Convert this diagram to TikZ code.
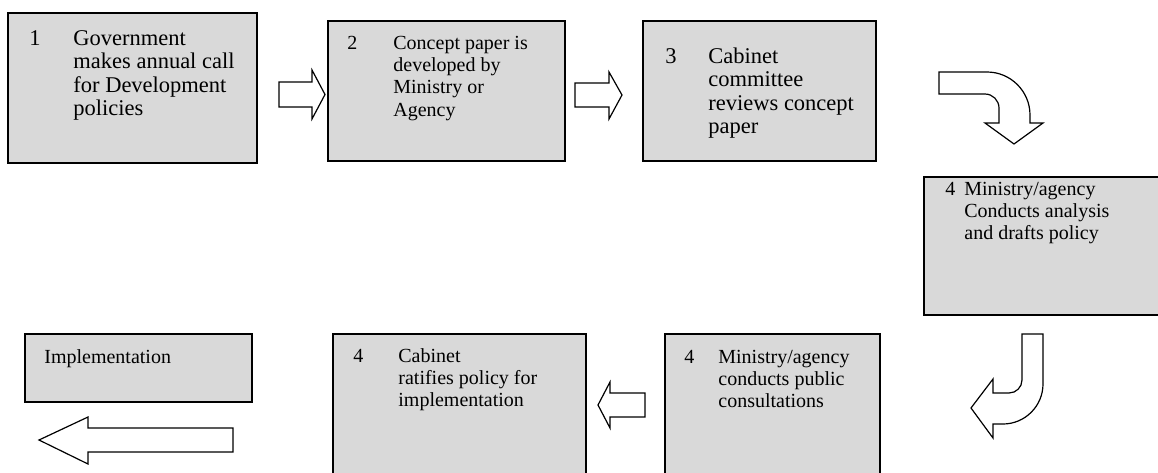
\documentclass[tikz,border=0pt]{standalone}
\usepackage{fontspec}
\setmainfont{Liberation Serif}
\usepackage{tikz}
\definecolor{boxgrey}{HTML}{D9D9D9}
\tikzset{
	box/.style={draw=black, fill=boxgrey, line width=0.8pt, inner sep=0pt, outer sep=0pt, anchor=north west},
	bigtxt/.style={font=\fontsize{11.25}{11.8}\selectfont, align=left, anchor=base west, inner sep=0pt},
	smalltxt/.style={font=\fontsize{10}{11.2}\selectfont, align=left, anchor=base west, inner sep=0pt},
	blockarrow/.style={draw=black, fill=white, line width=0.6pt, line join=miter}
}
\begin{document}
\begin{tikzpicture}[x=0.5pt,y=-0.5pt]
		\useasboundingbox (0,0) rectangle (1158,472);
		\clip (0,0) rectangle (1158,472);
		% Top row
		\node [box, minimum width=124.5pt, minimum height=75pt] (gov) at (8,13) {};
		\node [box, minimum width=118.5pt, minimum height=70pt] (concept) at (328,21) {};
		\node [box, minimum width=116.5pt, minimum height=70pt] (review) at (643,21) {};
		% Right
		\node [box, minimum width=125pt, minimum height=69pt] (draft) at (924,177) {};
		% Bottom row
		\node [box, minimum width=113.5pt, minimum height=34pt] (impl) at (25,334) {};
		\node [box, minimum width=126.5pt, minimum height=80pt] (ratify) at (333,334) {};
		\node [box, minimum width=107.5pt, minimum height=80pt] (consult) at (665,334) {};
		% NUMBERS AND TEXT (multi-line texts sit on their last baseline)
		\node [bigtxt] (gov-n) at (29,45) {1};
		\node [bigtxt] (gov-t) at (73,115.8) {Government\\makes annual call\\for Development\\policies};
		\node [smalltxt] (concept-n) at (347,49) {2};
		\node [smalltxt] (concept-t) at (393,116.2) {Concept paper is\\developed by\\Ministry or\\Agency};
		\node [bigtxt] (review-n) at (665,63) {3};
		\node [bigtxt] (review-t) at (708,133.8) {Cabinet\\committee\\reviews concept\\paper};
		\node [smalltxt] (draft-n) at (945,195) {4};
		\node [smalltxt] (draft-t) at (964,239.8) {Ministry/agency\\Conducts analysis\\and drafts policy};
		\node [smalltxt] (consult-n) at (684,363) {4};
		\node [smalltxt] (consult-t) at (718,407.8) {Ministry/agency\\conducts public\\consultations};
		\node [smalltxt] (ratify-n) at (353,362) {4};
		\node [smalltxt] (ratify-t) at (398,406.8) {Cabinet\\ratifies policy for\\implementation};
		\node [smalltxt] (impl-t) at (44,363) {Implementation};
		% Block arrows
		\draw [blockarrow] (279,82) -- (312,82) -- (312,70) -- (325,94.5) -- (312,119) -- (312,107) -- (279,107) -- cycle;
		\draw [blockarrow] (575,83) -- (609,83) -- (609,72) -- (622,95) -- (609,119) -- (609,107) -- (575,107) -- cycle;
		\draw [blockarrow] (939,72) -- (987,72) .. controls (1010.7,72) and (1030,91.3) .. (1030,115) -- (1030,123) -- (1043,123) -- (1014,144) -- (985,123) -- (999,123) -- (999,108) .. controls (999,100.3) and (992.7,94) .. (985,94) -- (939,94) -- cycle;
		\draw [blockarrow] (1022,334) -- (1043,334) -- (1043,384) .. controls (1043,406) and (1025,424) .. (1003,424) -- (993,424) -- (993,438) -- (971,408) -- (993,379) -- (993,393) -- (1009,393) .. controls (1016.2,393) and (1022,387.2) .. (1022,380) -- cycle;
		\draw [blockarrow] (645,393) -- (610,393) -- (610,382) -- (598,405) -- (610,428) -- (610,417) -- (645,417) -- cycle;
		\draw [blockarrow] (233,428) -- (88,428) -- (88,417) -- (39,440) -- (88,464) -- (88,452) -- (233,452) -- cycle;
	\end{tikzpicture}
\end{document}
